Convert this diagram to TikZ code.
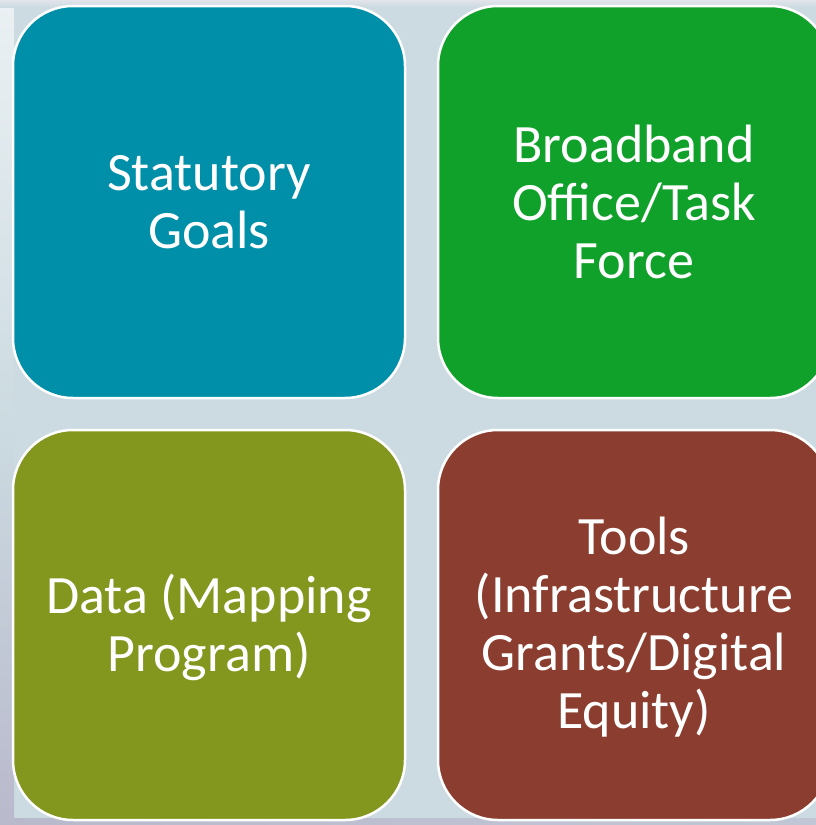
\documentclass[tikz,border=0pt]{standalone}
\usepackage{fontspec}
\setmainfont{Carlito}
\definecolor{bg}{HTML}{CCDBE1}
\definecolor{bgcorner}{HTML}{B9B9CC}
\definecolor{cteal}{HTML}{008FA9}
\definecolor{cgreen}{HTML}{10A12B}
\definecolor{colive}{HTML}{83961E}
\definecolor{cbrown}{HTML}{8B3E2F}
\begin{document}
\begin{tikzpicture}[x=1pt,y=-1pt,
  tile/.style={draw=white, line width=2.5pt, rounded corners=60pt},
  lbl/.style={text=white, align=center, font=\fontsize{54}{58}\selectfont, inner sep=0pt}]
\useasboundingbox (0,0) rectangle (816,825);
\fill[bg] (0,0) rectangle (816,825);
\shade[top color=white!60!bg, bottom color=bg] (0,0) rectangle (14,420);
\shade[top color=bg, bottom color=bgcorner] (0,420) rectangle (14,825);
\shade[left color=bgcorner, right color=bgcorner!60!bg] (0,818) rectangle (816,825);
\shade[top color=white!60!bgcorner, bottom color=bg] (0,0) rectangle (816,7);
\draw[tile, fill=cteal]  (13,6)    rectangle (405,398);
\draw[tile, fill=cgreen] (438,6)   rectangle (830,398);
\draw[tile, fill=colive] (13,430)  rectangle (405,820);
\draw[tile, fill=cbrown] (438,430) rectangle (830,820);
\node[lbl] (goals) at (209,202) {Statutory\\Goals};
\node[lbl] (office) at (634,202) {Broadband\\Office/Task\\Force};
\node[lbl] (data) at (209,627) {Data (Mapping\\Program)};
\node[lbl] (tools) at (634,627) {Tools\\(Infrastructure\\Grants/Digital\\Equity)};
\end{tikzpicture}
\end{document}
